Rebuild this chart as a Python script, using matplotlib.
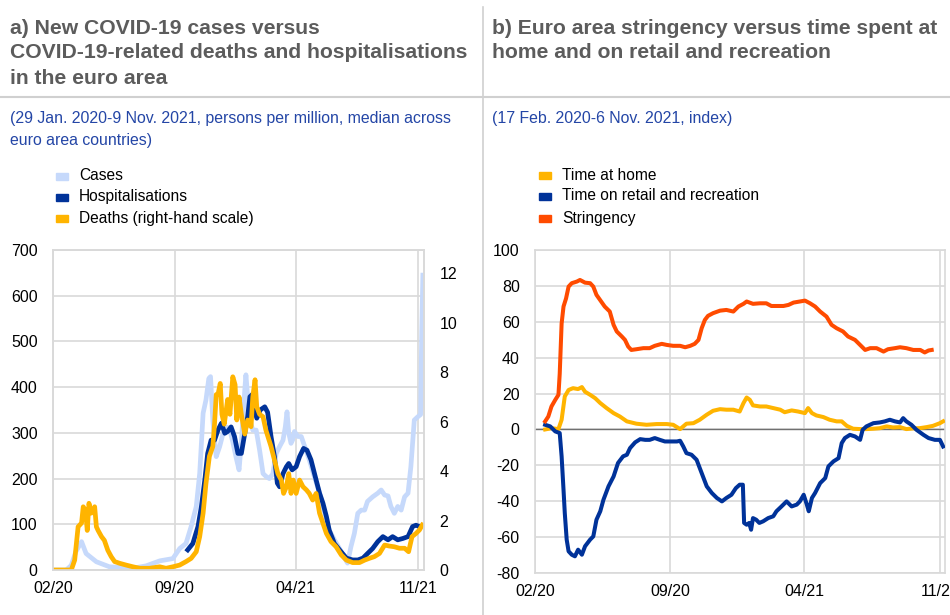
import numpy as np
import matplotlib
matplotlib.use("Agg")
import matplotlib.pyplot as plt
from matplotlib.patches import Rectangle
from matplotlib.lines import Line2D

plt.rcParams['font.family'] = ['Liberation Sans', 'DejaVu Sans']
plt.rcParams['axes.unicode_minus'] = False

# ---------------- data (days since 1 Feb 2020) ----------------
cases_day = [0, 23, 32, 40, 50, 58, 76, 99, 140, 163,
             187, 210, 222, 233, 242, 251, 257, 263, 268, 273,
             276, 280, 286, 292, 298, 303, 309, 315, 321, 326,
             330, 336, 338, 341, 345, 350, 356, 362, 368, 373,
             379, 385, 391, 397, 403, 407, 410, 413, 417, 420,
             423, 429, 435, 441, 449, 458, 467, 476, 484, 493,
             502, 511, 516, 522, 528, 534, 540, 546, 551, 560,
             569, 575, 581, 587, 592, 598, 604, 610, 616, 622,
             627, 633, 639, 644, 646, 648]
cases_val = [0, 0, 10, 40, 62, 36, 18, 7, 4, 9,
             20, 25, 47, 58, 95, 139, 211, 343, 372, 419,
             423, 328, 248, 270, 299, 313, 310, 280, 245, 219,
             280, 394, 427, 380, 328, 306, 306, 262, 211, 205,
             200, 210, 255, 270, 284, 313, 346, 300, 277, 285,
             303, 292, 292, 270, 241, 204, 168, 124, 87, 66,
             47, 26, 15, 51, 80, 124, 131, 131, 150, 160,
             168, 175, 164, 162, 139, 124, 139, 131, 160, 168,
             226, 328, 335, 340, 520, 645]

hosp_day = [236, 245, 254, 260, 266, 271, 277, 283, 289, 295,
            301, 306, 312, 318, 324, 330, 336, 341, 345, 351,
            357, 363, 371, 376, 382, 388, 393, 397, 403, 409,
            413, 419, 426, 432, 439, 445, 452, 461, 467, 473,
            479, 484, 493, 502, 514, 525, 534, 543, 551, 560,
            569, 578, 587, 595, 604, 613, 622, 630, 636, 642]
hosp_val = [44, 58, 95, 139, 197, 255, 284, 284, 306, 321,
            299, 303, 313, 292, 255, 255, 299, 335, 379, 386,
            332, 350, 357, 345, 292, 248, 190, 182, 211, 226,
            233, 219, 226, 248, 266, 262, 241, 197, 168, 146,
            117, 87, 58, 44, 26, 22, 22, 26, 36, 47,
            62, 73, 66, 73, 66, 69, 73, 95, 98, 95]

deaths_day = [0, 32, 38, 44, 50, 53, 57, 60, 63, 67,
              73, 76, 79, 85, 90, 96, 102, 108, 117, 128,
              140, 152, 169, 187, 198, 210, 222, 233, 242, 251,
              257, 263, 268, 274, 280, 283, 286, 289, 293, 296,
              300, 306, 310, 315, 319, 322, 326, 330, 336, 341,
              347, 350, 354, 357, 362, 368, 373, 382, 388, 394,
              400, 404, 409, 413, 417, 421, 426, 432, 438, 444,
              449, 455, 461, 467, 473, 479, 487, 496, 505, 514,
              525, 537, 546, 554, 563, 572, 581, 589, 598, 607,
              616, 623, 629, 636, 642, 647]
deaths_val = [0, 0, 0.4, 1.75, 1.9, 2.56, 2.4, 1.6, 2.7, 2.3,
              2.56, 1.75, 1.6, 1.35, 1.2, 0.8, 0.54, 0.34, 0.27, 0.2,
              0.13, 0.07, 0.07, 0.13, 0.07, 0.13, 0.2, 0.34, 0.47, 0.74,
              1.35, 2.3, 3.5, 4.6, 5.0, 5.9, 7.1, 7.1, 7.55, 6.3,
              5.9, 6.9, 6.3, 7.82, 7.5, 6.07, 7.0, 6.3, 5.5, 6.07,
              5.8, 7.0, 7.7, 6.6, 6.3, 6.2, 5.66, 5.0, 4.45, 3.9,
              3.64, 3.1, 3.37, 3.9, 3.1, 3.64, 3.1, 3.64, 3.37, 3.24,
              3.1, 2.83, 3.1, 2.3, 1.89, 1.48, 1.15, 0.94, 0.61, 0.4,
              0.3, 0.3, 0.4, 0.47, 0.54, 0.67, 1.01, 0.97, 0.94, 0.88,
              0.88, 0.74, 1.35, 1.48, 1.62, 1.82]

string_day = [16, 21, 26, 32, 37, 39, 42, 45, 49, 53,
              58, 66, 71, 79, 87, 92, 97, 103, 110, 118,
              124, 129, 137, 142, 147, 152, 160, 171, 181, 189,
              200, 208, 218, 229, 237, 245, 252, 258, 263, 268,
              273, 281, 292, 302, 313, 321, 329, 334, 344, 355,
              365, 373, 381, 392, 400, 408, 418, 426, 434, 442,
              450, 460, 468, 476, 486, 494, 505, 513, 521, 529,
              539, 550, 557, 568, 576, 586, 597, 608, 615, 621,
              626]
string_val = [4.5, 7.2, 12.8, 16.5, 19.3, 31, 59, 68.5, 73, 79.6,
              81.5, 82.4, 83.3, 81.8, 81.5, 79.6, 75, 72, 68.5, 65.7,
              58.3, 54.6, 51.8, 49.9, 46.2, 44.3, 44.7, 45.3, 45.3, 46.6,
              47.7, 47.1, 46.6, 46.6, 45.8, 46.6, 47.7, 49.9, 56.4, 61,
              63.3, 64.8, 66.2, 66.6, 65.7, 68.5, 70, 71.3, 70, 70.3,
              70.3, 68.8, 68.8, 68.8, 69.4, 70.7, 71.3, 71.8, 70.3, 68.5,
              65.7, 62.9, 58.3, 56.4, 54.6, 51.8, 49.9, 47.1, 44.3, 45.3,
              45.3, 43.4, 44.7, 45.3, 45.8, 45.3, 44.3, 44.3, 42.9, 44,
              44.3]

home_day = [16, 26, 37, 42, 47, 53, 60, 68, 74, 79,
            87, 95, 103, 113, 124, 134, 145, 160, 176, 192,
            208, 218, 229, 239, 250, 260, 271, 281, 292, 302,
            313, 323, 329, 334, 339, 344, 355, 365, 376, 387,
            394, 405, 415, 426, 431, 437, 444, 455, 465, 476,
            484, 492, 502, 513, 523, 534, 544, 555, 565, 576,
            586, 597, 607, 618, 628, 639, 644]
home_val = [0, 0.7, 0.2, 5.4, 18.4, 22, 23, 22.5, 23.6, 21,
            19.3, 17.4, 14.7, 11.9, 9.1, 7.2, 4.5, 3.2, 2.6, 3,
            3, 2.6, 0.2, 3.2, 3.5, 5.4, 8.2, 10.4, 11.3, 11,
            11, 10, 14.7, 17.8, 16.5, 13.4, 12.8, 12.8, 11.9, 11,
            9.6, 10.6, 10, 9.1, 11.9, 9.1, 7.8, 6.9, 5.4, 4.5,
            4.5, 2, 0.4, 0.2, 0.2, 0.4, 0.7, 1.7, 1.1, 1.3,
            0.2, 0.6, 0.7, 1.3, 2, 3.5, 4.5]

retail_day = [16, 24, 32, 39, 42, 45, 47, 50, 53, 58,
              63, 68, 74, 79, 87, 92, 97, 103, 108, 116,
              124, 131, 139, 145, 150, 158, 166, 174, 181, 189,
              197, 205, 213, 224, 229, 234, 239, 247, 255, 263,
              271, 279, 287, 295, 302, 310, 317, 323, 328, 330,
              334, 338, 341, 344, 349, 354, 360, 368, 376, 381,
              389, 397, 405, 413, 418, 424, 429, 432, 437, 442,
              450, 458, 463, 471, 479, 484, 489, 497, 505, 513,
              517, 523, 534, 544, 552, 560, 568, 576, 581, 586,
              594, 602, 613, 621, 631, 639, 644]
retail_val = [2.6, 1.7, -1.1, -2, -15, -33.6, -46.6, -61.4, -67.9, -69.8,
              -70.7, -67, -69.8, -65.1, -61.4, -59.6, -50.3, -45.6, -39.2, -31.7,
              -26.2, -18.7, -15, -14.1, -10.4, -7.2, -5.4, -5.8, -5.8, -4.8,
              -5.8, -6.7, -6.7, -6.7, -6.3, -9.5, -13.2, -14.1, -16.9, -24.3,
              -31.7, -35.4, -38.2, -40.1, -38.2, -36.4, -32.7, -30.8, -30.8, -52.1,
              -53.1, -52.1, -55.9, -49.4, -50.3, -52.1, -51.2, -49.4, -48.4, -45.6,
              -42.9, -40.1, -42.9, -41.9, -40.1, -36.4, -41.9, -45.6, -38.2, -35.4,
              -29.9, -27.1, -20.6, -17.8, -16, -7.6, -4.8, -3, -3.9, -5.8,
              -0.2, 1.7, 3.5, 3.9, 4.5, 5.4, 4.5, 3.9, 6.3, 4.5,
              2.6, -0.2, -3, -4.8, -5.8, -5.8, -9.5]

tick_dates = ['2020-02-01', '2020-09-01', '2021-04-01', '2021-11-01']
tick_labels = ['02/20', '09/20', '04/21', '11/21']

left_yticks = [0, 100, 200, 300, 400, 500, 600, 700]
right_yticks = [0, 2, 4, 6, 8, 10, 12]
b_yticks = [-80, -60, -40, -20, 0, 20, 40, 60, 80, 100]

# ---------------- styling ----------------
C_CASES = '#c6d9fb'
C_HOSP = '#003299'
C_DEATH = '#ffb400'
C_STR = '#ff4b00'
GRID = '#d9d9d9'
TITLE_C = '#5c5c5c'
SUB_C = '#2446a6'
TICK_FS = 11.5

BASE = np.datetime64('2020-02-01')


def to_dates(days):
    return BASE + np.array(days).astype('timedelta64[D]')


W, H = 950, 615
fig = plt.figure(figsize=(W / 100, H / 100), dpi=100)


def fx(px):
    return px / W


def fy(py):
    return 1 - py / H


# separators
fig.add_artist(Line2D([fx(0), fx(950)], [fy(97), fy(97)], color='#d0d0d0', lw=1.5))
fig.add_artist(Line2D([fx(483), fx(483)], [fy(7), fy(615)], color='#d0d0d0', lw=1.2))

# titles
title_kw = dict(fontsize=15.2, fontweight='bold', color=TITLE_C, va='center', ha='left')
fig.text(fx(10), fy(28), 'a) New COVID-19 cases versus', **title_kw)
fig.text(fx(10), fy(53), 'COVID-19-related deaths and hospitalisations', **title_kw)
fig.text(fx(10), fy(78), 'in the euro area', **title_kw)
fig.text(fx(492), fy(28), 'b) Euro area stringency versus time spent at', **title_kw)
fig.text(fx(492), fy(53), 'home and on retail and recreation', **title_kw)

sub_kw = dict(fontsize=11.4, color=SUB_C, va='center', ha='left')
fig.text(fx(10), fy(118), '(29 Jan. 2020-9 Nov. 2021, persons per million, median across', **sub_kw)
fig.text(fx(10), fy(140), 'euro area countries)', **sub_kw)
fig.text(fx(492), fy(118), '(17 Feb. 2020-6 Nov. 2021, index)', **sub_kw)


def legend_item(x, y, color, label):
    fig.add_artist(Rectangle((fx(x), fy(y + 4)), fx(12), 7 / H, color=color,
                             transform=fig.transFigure))
    fig.text(fx(x + 23), fy(y), label, fontsize=11.2, color='black', va='center', ha='left')


legend_item(56, 176, C_CASES, 'Cases')
legend_item(56, 197, C_HOSP, 'Hospitalisations')
legend_item(56, 218, C_DEATH, 'Deaths (right-hand scale)')
legend_item(539, 175, C_DEATH, 'Time at home')
legend_item(539, 196, C_HOSP, 'Time on retail and recreation')
legend_item(539, 218, C_STR, 'Stringency')


def style_axes(ax):
    for s in ax.spines.values():
        s.set_color(GRID)
        s.set_linewidth(1.2)
    ax.grid(True, color=GRID, lw=1.2)
    ax.set_axisbelow(True)
    ax.tick_params(length=0, labelsize=TICK_FS, colors='#000000')
    ax.tick_params(axis='x', pad=8)
    ax.tick_params(axis='y', pad=11)
    ax.set_xticks(np.array(tick_dates, dtype='datetime64[D]'))
    ax.set_xticklabels(tick_labels)


# ---------------- panel a ----------------
axa = fig.add_axes([fx(53), fy(570), fx(424 - 53), (570 - 250) / H])
style_axes(axa)
axa.plot(to_dates(cases_day), cases_val, color=C_CASES, lw=3.4, solid_joinstyle='round')
axa.plot(to_dates(hosp_day), hosp_val, color=C_HOSP, lw=3.4, solid_joinstyle='round')
axa.set_ylim(0, 700)
axa.set_yticks(left_yticks)
axa.set_xlim(BASE, BASE + np.timedelta64(650, 'D'))

axr = axa.twinx()
axr.plot(to_dates(deaths_day), deaths_val, color=C_DEATH, lw=3.4, solid_joinstyle='round')
axr.set_ylim(0, 12.95)
axr.set_yticks(right_yticks)
axr.tick_params(length=0, labelsize=TICK_FS, pad=11)
for s in axr.spines.values():
    s.set_color(GRID)
    s.set_linewidth(1.2)

# ---------------- panel b ----------------
axb = fig.add_axes([fx(535), fy(573), fx(945 - 535), (573 - 250) / H])
style_axes(axb)
axb.axhline(0, color='#707070', lw=1.0, zorder=1)
axb.plot(to_dates(home_day), home_val, color=C_DEATH, lw=2.9, solid_joinstyle='round', zorder=3)
axb.plot(to_dates(retail_day), retail_val, color=C_HOSP, lw=2.9, solid_joinstyle='round', zorder=3)
axb.plot(to_dates(string_day), string_val, color=C_STR, lw=2.9, solid_joinstyle='round', zorder=3)
axb.set_ylim(-80, 100)
axb.set_yticks(b_yticks)
axb.set_xlim(BASE, BASE + np.timedelta64(647, 'D'))

fig.savefig('out.png', dpi=100)
